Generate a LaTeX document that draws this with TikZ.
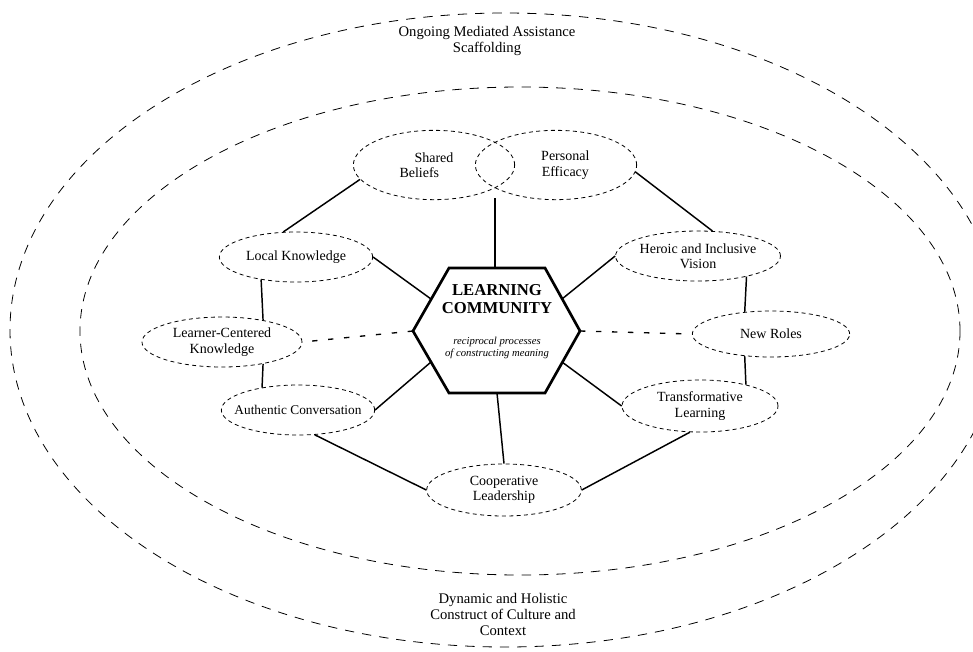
\documentclass[tikz,border=0pt]{standalone}
\usepackage{fontspec}
\setmainfont{Liberation Serif}
\usetikzlibrary{shapes.geometric}
\begin{document}
\begin{tikzpicture}[x=0.75pt,y=-0.75pt,
  ring/.style={draw, dash pattern=on 7pt off 6pt, line width=0.6pt},
  idea/.style={ellipse, draw, dash pattern=on 3pt off 2.5pt, line width=0.6pt, align=center,
     font=\fontsize{10.5}{11.5}\selectfont, inner sep=0pt},
  link/.style={draw, line width=1.1pt},
  faint/.style={draw, line width=1pt, dash pattern=on 4pt off 8pt},
  ringlabel/.style={align=center, font=\fontsize{11}{12}\selectfont}]
\useasboundingbox (0,0) rectangle (973,651);
\clip (0,0) rectangle (973,651);
% rings
\draw[ring] (505,330) ellipse [x radius=495, y radius=317];
\draw[ring] (520,331) ellipse [x radius=440, y radius=244];
\node[ringlabel] (scaff) at (487,41) {Ongoing Mediated Assistance\\Scaffolding};
\node[ringlabel] (ctx) at (503,614) {Dynamic and Holistic\\Construct of Culture and\\Context};
% nodes
\node[idea, minimum width=121pt, minimum height=52pt] (beliefs) at (434,165) {Shared\\Beliefs\hspace*{22pt}};
\node[idea, minimum width=121pt, minimum height=52pt] (efficacy) at (556,165) {\hspace*{14pt}Personal\\\hspace*{14pt}Efficacy};
\coordinate (lens) at (495,198);
\node[idea, minimum width=115pt, minimum height=37.5pt] (local) at (296,257) {Local Knowledge};
\node[idea, minimum width=120pt, minimum height=37.5pt] (learner) at (222,342) {Learner-Centered\\Knowledge};
\node[idea, minimum width=115pt, minimum height=37.5pt, inner xsep=-14pt, font=\fontsize{10}{11}\selectfont] (authentic) at (298,410) {Authentic Conversation};
\node[idea, minimum width=116pt, minimum height=39pt] (coop) at (504,490) {Cooperative\\Leadership};
\node[idea, minimum width=117pt, minimum height=39pt] (transf) at (700,406) {Transformative\\Learning};
\node[idea, minimum width=118pt, minimum height=34.5pt] (newroles) at (771,334) {New Roles};
\node[idea, minimum width=118pt, minimum height=37.5pt] (heroic) at (698,256) {Heroic and Inclusive\\Vision};
% hexagon
\coordinate (h1) at (449,268);
\coordinate (h2) at (545,268);
\coordinate (h3) at (580,331);
\coordinate (h4) at (545,393);
\coordinate (h5) at (449,393);
\coordinate (h6) at (413,331);
\draw[line width=2pt, line join=miter] (h1) -- (h2) -- (h3) -- (h4) -- (h5) -- (h6) -- cycle;
\coordinate (htop) at (495,268);
\coordinate (hbot) at (497,393);
\coordinate (hul) at (431,299);
\coordinate (hur) at (562,299);
\coordinate (hll) at (431,362);
\coordinate (hlr) at (562,362);
\node[font=\fontsize{12.5}{13.5}\selectfont\bfseries, align=center] (title) at (497,299) {LEARNING\\COMMUNITY};
\node[font=\fontsize{8}{9.5}\selectfont\itshape, align=center] (sub) at (497,348) {reciprocal processes\\of constructing meaning};
% connectors
\draw[link] (htop) -- (lens);
\draw[link] (hbot) -- (coop.north);
\draw[link] (hul) -- (local.east);
\draw[link] (hur) -- (heroic.west);
\draw[link] (hll) -- (authentic.east);
\draw[link] (hlr) -- (transf.west);
\draw[faint] (h6) -- (learner.east);
\draw[faint] (h3) -- (newroles.west);
\draw[link] (beliefs.191) -- (local.117);
\draw[link] (efficacy.-5) -- (heroic.60);
\draw[link] (local.213) -- (learner.28);
\draw[link] (learner.-28) -- (authentic.148);
\draw[link] (heroic.-23) -- (newroles.140);
\draw[link] (newroles.-140) -- (transf.25);
\draw[link] (authentic.-56) -- (coop.west);
\draw[link] (coop.east) -- (transf.-111);
\end{tikzpicture}
\end{document}
